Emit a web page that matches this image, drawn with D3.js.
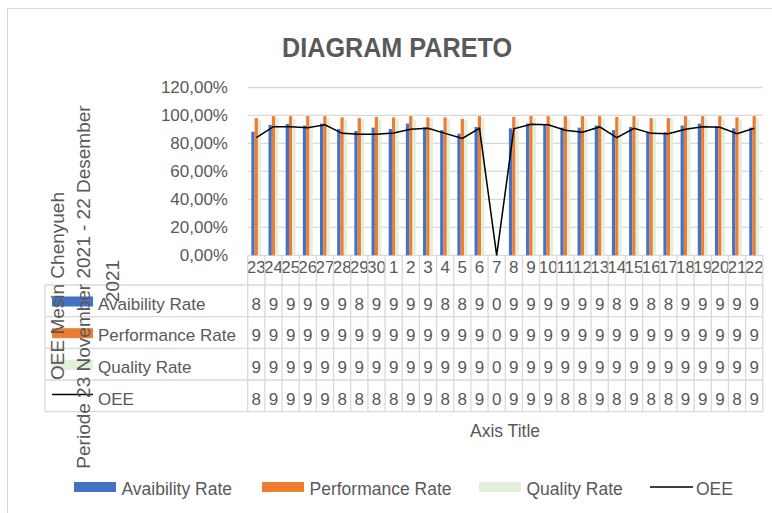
<!DOCTYPE html>
<html>
<head>
<meta charset="utf-8">
<script src="https://cdn.jsdelivr.net/npm/d3@7"></script>
<style>
  body { margin: 0; background: #fff; }
  svg { display: block; font-family: "Liberation Sans", Arial, sans-serif; }
</style>
</head>
<body>
<svg id="chart"></svg>
<script>
// days of the period 23 Nov - 22 Dec 2021
const categories = ['23','24','25','26','27','28','29','30','1','2','3','4','5','6','7',
  '8','9','10','11','12','13','14','15','16','17','18','19','20','21','22'];

const availability = [0.884, 0.933, 0.940, 0.928, 0.942, 0.904, 0.889, 0.913, 0.904, 0.942,
  0.916, 0.895, 0.870, 0.918, 0, 0.908, 0.942, 0.933, 0.913, 0.913,
  0.928, 0.895, 0.918, 0.884, 0.880, 0.928, 0.942, 0.923, 0.908, 0.913];

const performance = [0.981, 0.995, 0.995, 0.995, 0.995, 0.986, 0.981, 0.990, 0.986, 0.995,
  0.986, 0.986, 0.976, 0.995, 0, 0.990, 0.995, 0.995, 0.995, 0.995,
  0.995, 0.990, 0.995, 0.981, 0.981, 0.995, 0.995, 0.995, 0.986, 0.995];

const quality = [0.972, 0.985, 0.978, 0.975, 0.985, 0.972, 0.975, 0.970, 0.978, 0.972,
  0.980, 0.975, 0.970, 0.982, 0, 0.975, 0.985, 0.980, 0.978, 0.975,
  0.980, 0.972, 0.978, 0.975, 0.980, 0.972, 0.978, 0.975, 0.970, 0.978];

const oee = [0.841, 0.920, 0.920, 0.913, 0.933, 0.872, 0.865, 0.865, 0.875, 0.901,
  0.908, 0.872, 0.836, 0.908, 0, 0.904, 0.937, 0.933, 0.895, 0.880,
  0.918, 0.841, 0.908, 0.872, 0.870, 0.902, 0.920, 0.916, 0.870, 0.908];

const yTicks = [0, 0.2, 0.4, 0.6, 0.8, 1.0, 1.2];
const barSeries = ['Avaibility Rate', 'Performance Rate', 'Quality Rate'];
const yTitleLines = ['OEE Mesin Chenyueh', 'Periode 23 November 2021 - 22 Desember', '2021'];

const colors = {
  'Avaibility Rate': '#4472C4',
  'Performance Rate': '#ED7D31',
  'Quality Rate': '#E2EFDA',
  'OEE': '#000000'
};
const textColor = '#595959';
const gridColor = '#d9d9d9';
const font = '"Liberation Sans", Arial, sans-serif';

const width = 772, height = 513;
const plot = { left: 247.7, right: 762.8, top: 87.5, bottom: 255.3 };
const table = { left: 45, top: 285, rowH: 31.67 };

const svg = d3.select('#chart').attr('width', width).attr('height', height);

// chart area border
svg.append('rect')
  .attr('x', 7.5).attr('y', 8.5).attr('width', 820).attr('height', 600)
  .attr('fill', '#fff').attr('stroke', gridColor);

svg.append('text')
  .attr('x', 397).attr('y', 56.5)
  .attr('text-anchor', 'middle')
  .attr('font-size', 27).attr('font-weight', 'bold')
  .attr('textLength', 230).attr('lengthAdjust', 'spacingAndGlyphs')
  .attr('fill', textColor)
  .text('DIAGRAM PARETO');

const x = d3.scaleBand().domain(categories).range([plot.left, plot.right]);
const x1 = d3.scaleBand().domain(barSeries).range([0, x.bandwidth()]).paddingOuter(1.1);
const y = d3.scaleLinear().domain([0, 1.2]).range([plot.bottom, plot.top]);

const pct = d3.formatLocale({ decimal: ',', thousands: '.', grouping: [3], currency: ['', ''] }).format('.2%');

// gridlines
svg.append('g')
  .selectAll('line')
  .data(yTicks)
  .join('line')
  .attr('x1', plot.left).attr('x2', plot.right)
  .attr('y1', d => y(d)).attr('y2', d => y(d))
  .attr('stroke', gridColor).attr('stroke-width', 1.3);

svg.append('g')
  .attr('transform', 'translate(228,0)')
  .call(d3.axisLeft(y).tickValues(yTicks).tickFormat(pct).tickSize(0).tickPadding(0))
  .call(g => g.select('.domain').remove())
  .attr('font-size', 17).attr('font-family', font).attr('color', textColor);

// bars
const barData = { 'Avaibility Rate': availability, 'Performance Rate': performance, 'Quality Rate': quality };
svg.append('g')
  .selectAll('g')
  .data(categories)
  .join('g')
  .attr('transform', d => `translate(${x(d)},0)`)
  .selectAll('rect')
  .data((d, i) => barSeries.map(s => ({ s, v: barData[s][i] })))
  .join('rect')
  .attr('x', d => x1(d.s))
  .attr('y', d => y(d.v))
  .attr('width', x1.bandwidth())
  .attr('height', d => y(0) - y(d.v))
  .attr('fill', d => colors[d.s]);

// OEE line
const line = d3.line()
  .x((d, i) => x(categories[i]) + x.bandwidth() / 2)
  .y(d => y(d));
svg.append('path')
  .datum(oee)
  .attr('d', line)
  .attr('fill', 'none')
  .attr('stroke', colors.OEE)
  .attr('stroke-width', 1.5);

// category labels
svg.append('g')
  .attr('transform', `translate(0,${plot.bottom})`)
  .call(d3.axisBottom(x).tickSize(0).tickPadding(5.5))
  .call(g => g.select('.domain').remove())
  .attr('font-size', 17).attr('font-family', font).attr('color', textColor);

// data table
const rows = [
  { name: 'Avaibility Rate', values: availability },
  { name: 'Performance Rate', values: performance },
  { name: 'Quality Rate', values: quality },
  { name: 'OEE', values: oee }
];
const tableBottom = table.top + rows.length * table.rowH;
const tg = svg.append('g').attr('stroke', gridColor).attr('stroke-width', 1.3);

tg.selectAll('line.h')
  .data(d3.range(rows.length + 1))
  .join('line')
  .attr('class', 'h')
  .attr('x1', table.left).attr('x2', plot.right)
  .attr('y1', i => table.top + i * table.rowH)
  .attr('y2', i => table.top + i * table.rowH);

tg.selectAll('line.v')
  .data(categories.map(c => x(c)).concat([plot.right]))
  .join('line')
  .attr('class', 'v')
  .attr('x1', d => d).attr('x2', d => d)
  .attr('y1', plot.bottom).attr('y2', tableBottom);

tg.append('line')
  .attr('x1', table.left).attr('x2', table.left)
  .attr('y1', table.top).attr('y2', tableBottom);

const rowG = svg.append('g')
  .selectAll('g')
  .data(rows)
  .join('g')
  .attr('transform', (d, i) => `translate(0,${table.top + i * table.rowH})`);

rowG.each(function (d) {
  const g = d3.select(this);
  if (d.name === 'OEE') {
    g.append('line')
      .attr('x1', 52).attr('x2', 93)
      .attr('y1', 14.5).attr('y2', 14.5)
      .attr('stroke', colors.OEE).attr('stroke-width', 1.3);
  } else {
    g.append('rect')
      .attr('x', 52).attr('y', 11.5).attr('width', 41).attr('height', 10)
      .attr('fill', colors[d.name]);
  }
});

rowG.append('text')
  .attr('x', 98).attr('y', 24.5)
  .attr('font-size', 17).attr('fill', textColor)
  .text(d => d.name);

rowG.selectAll('text.val')
  .data(d => d.values.map((v, i) => ({ v, c: categories[i] })))
  .join('text')
  .attr('class', 'val')
  .attr('x', d => x(d.c) + x.bandwidth() / 2)
  .attr('y', 24.5)
  .attr('text-anchor', 'middle')
  .attr('font-size', 17).attr('fill', textColor)
  .text(d => String(Math.floor(d.v * 10)));

// axis titles
const yTitlePos = [[57.5, 286], [83, 287], [112, 281]];
svg.append('g')
  .selectAll('text')
  .data(yTitleLines)
  .join('text')
  .attr('transform', (d, i) => `translate(${yTitlePos[i][0]},${yTitlePos[i][1]}) rotate(-90)`)
  .attr('dy', '0.35em')
  .attr('text-anchor', 'middle')
  .attr('font-size', 19).attr('fill', textColor)
  .text(d => d);

svg.append('text')
  .attr('x', 505).attr('y', 436.5)
  .attr('text-anchor', 'middle')
  .attr('font-size', 17.5).attr('fill', textColor)
  .text('Axis Title');

// legend
const legendItems = [
  { name: 'Avaibility Rate', x: 74 },
  { name: 'Performance Rate', x: 262 },
  { name: 'Quality Rate', x: 479 },
  { name: 'OEE', x: 650 }
];
const lg = svg.append('g')
  .selectAll('g')
  .data(legendItems)
  .join('g')
  .attr('transform', d => `translate(${d.x},482)`);

lg.each(function (d) {
  const g = d3.select(this);
  if (d.name === 'OEE') {
    g.append('line').attr('x1', 0).attr('x2', 43).attr('y1', 5).attr('y2', 5)
      .attr('stroke', colors.OEE).attr('stroke-width', 1.3);
  } else {
    g.append('rect').attr('width', 42).attr('height', 10).attr('fill', colors[d.name]);
  }
});

lg.append('text')
  .attr('x', d => d.name === 'OEE' ? 46 : 47.5)
  .attr('y', 12.7)
  .attr('font-size', 17.5).attr('fill', textColor)
  .text(d => d.name);
</script>
</body>
</html>
